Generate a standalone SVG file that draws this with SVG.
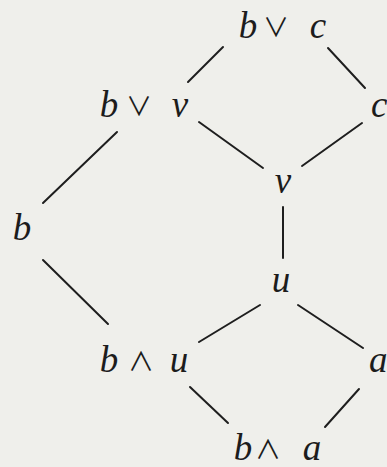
<svg xmlns="http://www.w3.org/2000/svg" width="387" height="467" viewBox="0 0 387 467">
<style>
.t{font-family:"Liberation Serif","Times New Roman",serif;font-style:italic;font-size:37px;fill:#1c1c1c;text-anchor:middle}
.s{font-family:"Noto Sans CJK JP","Liberation Serif",serif;font-style:normal;font-weight:400;font-size:26px;fill:#1c1c1c;text-anchor:middle}
.e{stroke:#1e1e1e;stroke-width:2;stroke-linecap:round;fill:none}
</style>
<rect width="387" height="467" fill="#efefeb"/>
<g id="connectors">
<line class="e" x1="223" y1="47" x2="188" y2="82"/>
<line class="e" x1="328" y1="48" x2="365" y2="88"/>
<line class="e" x1="199" y1="122" x2="263" y2="168"/>
<line class="e" x1="362" y1="123" x2="302" y2="166"/>
<line class="e" x1="117" y1="132" x2="43" y2="203"/>
<line class="e" x1="283" y1="207" x2="283" y2="258"/>
<line class="e" x1="43" y1="260" x2="108" y2="324"/>
<line class="e" x1="260" y1="305" x2="199" y2="342"/>
<line class="e" x1="298" y1="305" x2="363" y2="348"/>
<line class="e" x1="190" y1="387" x2="228" y2="423"/>
<line class="e" x1="359" y1="389" x2="325" y2="427"/>
</g>
<g id="n-bvc"><text class="t" x="248" y="38">b</text><text class="s" x="276" y="37">∨</text><text class="t" x="318" y="38">c</text></g>
<g id="n-bvv"><text class="t" x="109" y="117">b</text><text class="s" x="139" y="116">∨</text><text class="t" x="180" y="117">v</text></g>
<g id="n-c"><text class="t" x="371" y="117" style="text-anchor:start">c</text></g>
<g id="n-v"><text class="t" x="283" y="193">v</text></g>
<g id="n-b"><text class="t" x="22" y="240">b</text></g>
<g id="n-u"><text class="t" x="281" y="292">u</text></g>
<g id="n-bwu"><text class="t" x="109" y="372">b</text><text class="s" x="141" y="371">∧</text><text class="t" x="179" y="372">u</text></g>
<g id="n-a"><text class="t" x="369" y="372" style="text-anchor:start">a</text></g>
<g id="n-bwa"><text class="t" x="243" y="460">b</text><text class="s" x="268" y="459">∧</text><text class="t" x="312" y="460">a</text></g>
</svg>
